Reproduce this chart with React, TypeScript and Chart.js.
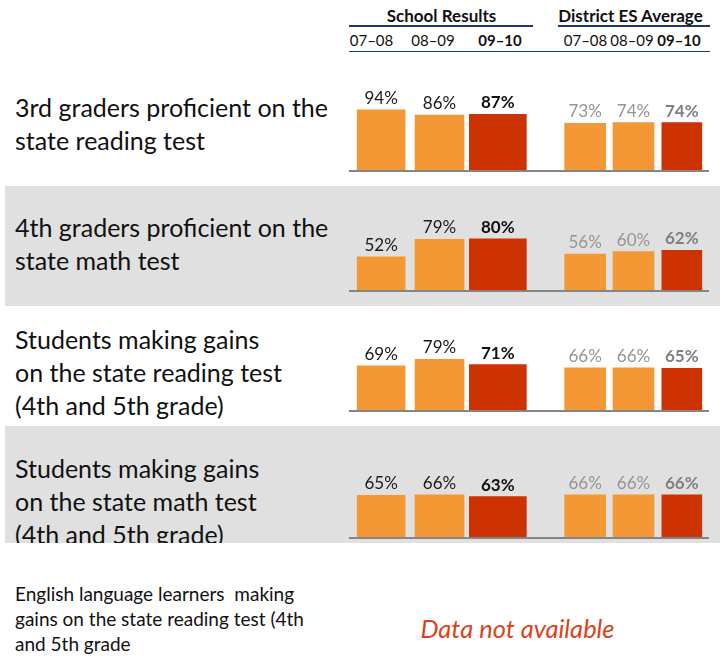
import React, { useEffect, useRef } from "react";
import { Chart, registerables } from "chart.js";

Chart.register(...registerables);

// ---------- data ----------
const years = ["07–08", "08–09", "09–10"];
const groupTitles = ["School Results", "District ES Average"];
const rowLabels: string[][] = [
  ["3rd graders proficient on the", "state reading test"],
  ["4th graders proficient on the", "state math test"],
  ["Students making gains", "on the state reading test", "(4th and 5th grade)"],
  ["Students making gains", "on the state math test", "(4th and 5th grade)"],
];
const schoolValues: number[][] = [
  [94, 86, 87],
  [52, 79, 80],
  [69, 79, 71],
  [65, 66, 63],
];
const districtValues: number[][] = [
  [73, 74, 74],
  [56, 60, 62],
  [66, 66, 65],
  [66, 66, 66],
];
const footLabel = [
  "English language learners  making",
  "gains on the state reading test (4th",
  "and 5th grade",
];
const noDataText = "Data not available";

// ---------- styles ----------
const ORANGE = "#F39834";
const RED = "#CC3300";
const NAVY = "#1F3864";
const FONT = "Lato, 'Open Sans', sans-serif";
const Y_MAX = 150;
const CANVAS_H = 96;

type GroupProps = {
  values: number[];
  left: number;
  width: number;
  baseline: number;
  widths: number[];
  color: string;
  boldColor: string;
};

function BarGroup({ values, left, width, baseline, widths, color, boldColor }: GroupProps) {
  const ref = useRef<HTMLCanvasElement | null>(null);
  useEffect(() => {
    if (!ref.current) return;
    const labelPlugin = {
      id: "valueLabels",
      afterDatasetsDraw(chart: any) {
        const ctx = chart.ctx;
        ctx.save();
        ctx.textAlign = "center";
        ctx.textBaseline = "alphabetic";
        chart.data.datasets.forEach((ds: any, i: number) => {
          const meta = chart.getDatasetMeta(i);
          meta.data.forEach((el: any, j: number) => {
            const v = ds.data[j];
            if (v === null || v === undefined) return;
            const bold = i === 2;
            ctx.font = `${bold ? "bold " : ""}17px ${FONT}`;
            ctx.fillStyle = bold ? boldColor : color;
            ctx.fillText(`${v}%`, el.x, el.y - 6);
          });
        });
        ctx.restore();
      },
    };
    const chart = new Chart(ref.current, {
      type: "bar",
      data: {
        labels: years,
        datasets: years.map((y, i) => ({
          label: y,
          data: years.map((_, j) => (j === i ? values[i] : null)),
          backgroundColor: i === 2 ? RED : ORANGE,
          barThickness: widths[i],
          grouped: false,
          borderWidth: 0,
        })),
      },
      options: {
        responsive: false,
        animation: false,
        events: [],
        layout: { padding: 0 },
        plugins: { legend: { display: false }, tooltip: { enabled: false } },
        scales: {
          x: { display: false },
          y: { display: false, min: 0, max: Y_MAX },
        },
      },
      plugins: [labelPlugin],
    } as any);
    return () => chart.destroy();
  }, [values, left, width, baseline]);
  return (
    <canvas
      ref={ref}
      width={width}
      height={CANVAS_H}
      style={{ position: "absolute", left, top: baseline - CANVAS_H, width, height: CANVAS_H }}
    />
  );
}

const baselines = [170, 290, 410, 537];
const textTops = [91, 210.5, 323, 451.8];
const bands = [
  null,
  { top: 186, bottom: 306 },
  null,
  { top: 426, bottom: 543 },
];

function centered(text: string, cx: number, top: number, size: number, bold: boolean, extra: any = {}) {
  return (
    <div
      key={text + cx + top}
      style={{
        position: "absolute",
        left: cx - 100,
        width: 200,
        top,
        textAlign: "center",
        fontFamily: FONT,
        fontSize: size,
        lineHeight: `${size * 1.2}px`,
        fontWeight: bold ? 700 : 400,
        color: "#111",
        whiteSpace: "nowrap",
        ...extra,
      }}
    >
      {text}
    </div>
  );
}

export default function App() {
  return (
    <div
      style={{
        position: "absolute",
        left: 0,
        top: 0,
        width: 720,
        height: 658,
        background: "#fff",
        overflow: "hidden",
      }}
    >
      {/* bands */}
      {bands.map((b, i) =>
        b ? (
          <div
            key={"band" + i}
            style={{
              position: "absolute",
              left: 5,
              top: b.top,
              width: 715,
              height: b.bottom - b.top,
              background: "#E0E0E0",
              overflow: "hidden",
            }}
          >
            <div
              style={{
                position: "absolute",
                left: 10,
                top: textTops[i] - b.top,
                fontFamily: FONT,
                fontSize: 25,
                lineHeight: "33px",
                color: "#111",
                whiteSpace: "pre",
              }}
            >
              {rowLabels[i].join("\n")}
            </div>
          </div>
        ) : (
          <div
            key={"txt" + i}
            style={{
              position: "absolute",
              left: 15,
              top: textTops[i],
              fontFamily: FONT,
              fontSize: 25,
              lineHeight: "33px",
              color: "#111",
              whiteSpace: "pre",
            }}
          >
            {rowLabels[i].join("\n")}
          </div>
        )
      )}

      {/* header */}
      {centered(groupTitles[0], 441.5, 6.2, 17, true)}
      {centered(groupTitles[1], 630.5, 6.2, 17, true)}
      <div style={{ position: "absolute", left: 349, top: 25, width: 184, height: 1.5, background: NAVY }} />
      <div style={{ position: "absolute", left: 558, top: 25, width: 152, height: 1.5, background: NAVY }} />
      {years.map((y, i) => centered(y, [371.5, 433, 500][i], 30.7, 15, i === 2))}
      {years.map((y, i) => centered(y, [585.5, 632, 679][i], 30.7, 15, i === 2))}
      <div style={{ position: "absolute", left: 349, top: 50.5, width: 361, height: 1.5, background: NAVY }} />

      {/* bars */}
      {baselines.map((bl, r) => (
        <React.Fragment key={"row" + r}>
          <BarGroup
            values={schoolValues[r]}
            left={352}
            width={175}
            baseline={bl}
            widths={[48, 49, 57]}
            color="#1a1a1a"
            boldColor="#111111"
          />
          <BarGroup
            values={districtValues[r]}
            left={561}
            width={145}
            baseline={bl}
            widths={[41, 41, 40]}
            color="#959595"
            boldColor="#7f7f7f"
          />
          <div
            style={{
              position: "absolute",
              left: 349,
              top: bl,
              width: 360,
              height: 1.5,
              background: "#858585",
            }}
          />
        </React.Fragment>
      ))}

      {/* footer */}
      <div
        style={{
          position: "absolute",
          left: 15,
          top: 581.2,
          fontFamily: FONT,
          fontSize: 19,
          lineHeight: "25px",
          color: "#111",
          whiteSpace: "pre",
        }}
      >
        {footLabel.join("\n")}
      </div>
      <div
        style={{
          position: "absolute",
          left: 417.5,
          width: 200,
          top: 612.8,
          textAlign: "center",
          fontFamily: FONT,
          fontSize: 25.5,
          lineHeight: "30.6px",
          fontStyle: "italic",
          color: "#DA441C",
          whiteSpace: "nowrap",
        }}
      >
        {noDataText}
      </div>
    </div>
  );
}
